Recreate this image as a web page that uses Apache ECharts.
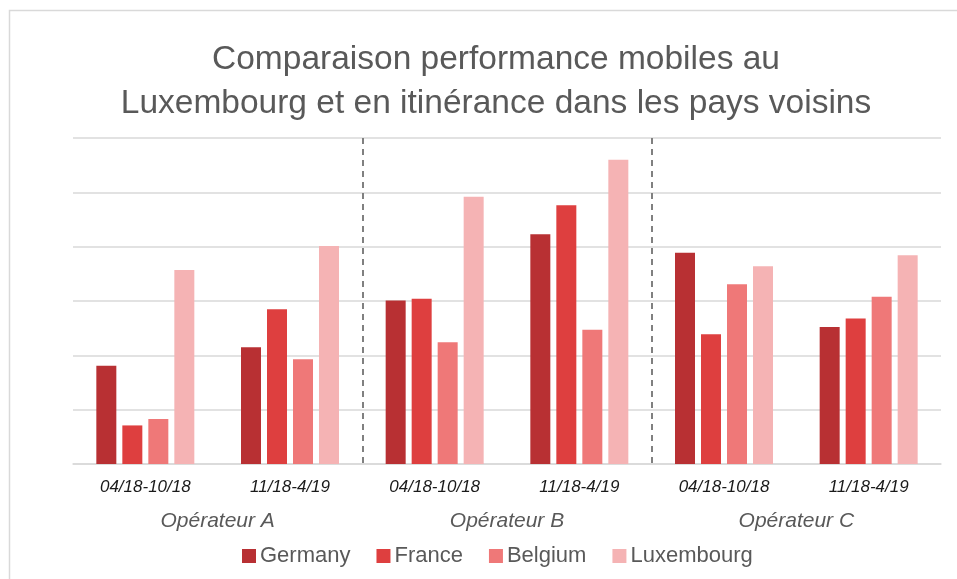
<!DOCTYPE html>
<html>
<head>
<meta charset="utf-8">
<script src="https://cdn.jsdelivr.net/npm/echarts@6/dist/echarts.min.js"></script>
<style>
html,body{margin:0;padding:0;background:#fff;}
#chart{width:957px;height:579px;}
</style>
</head>
<body>
<div id="chart"></div>
<script>
var periods = ['04/18-10/18', '11/18-4/19', '04/18-10/18', '11/18-4/19', '04/18-10/18', '11/18-4/19'];
var operators = ['Opérateur A', 'Opérateur B', 'Opérateur C'];
var seriesNames = ['Germany', 'France', 'Belgium', 'Luxembourg'];
var germany = [1.81, 2.15, 3.01, 4.23, 3.89, 2.52];
var france = [0.71, 2.85, 3.04, 4.76, 2.39, 2.68];
var belgium = [0.83, 1.93, 2.24, 2.47, 3.31, 3.08];
var luxembourg = [3.57, 4.01, 4.92, 5.60, 3.64, 3.84];
var colors = ['#b83033', '#de3f3f', '#ef7878', '#f5b3b4'];

var FONT = '"Liberation Sans", sans-serif';
var chart = echarts.init(document.getElementById('chart'), null, {renderer: 'canvas'});
var values = [germany, france, belgium, luxembourg];
var series = seriesNames.map(function (n, i) {
  return {
    name: n,
    type: 'bar',
    xAxisIndex: 0,
    data: values[i],
    barWidth: 20,
    barGap: '30%',
    itemStyle: {color: colors[i]}
  };
});

chart.setOption({
  animation: false,
  textStyle: {fontFamily: FONT},
  title: {
    text: 'Comparaison performance mobiles au\nLuxembourg et en itinérance dans les pays voisins',
    left: 491,
    textAlign: 'center',
    top: 33,
    textStyle: {fontFamily: FONT, fontSize: 33.5, fontWeight: 'normal', color: '#595959', lineHeight: 44}
  },
  legend: {
    data: seriesNames,
    bottom: 7,
    left: 237,
    itemWidth: 14,
    itemHeight: 14,
    itemGap: 26,
    icon: 'rect',
    textStyle: {fontFamily: FONT, fontSize: 22, color: '#595959', padding: [0, 0, 0, -1]}
  },
  grid: {left: 73, right: 16, top: 138, bottom: 115},
  xAxis: [
    {
      type: 'category',
      data: periods,
      axisLine: {lineStyle: {color: '#d9d9d9', width: 1.5}},
      axisTick: {show: false},
      axisLabel: {fontStyle: 'italic', fontSize: 17, color: '#1a1a1a', margin: 15, fontFamily: FONT}
    },
    {
      type: 'category',
      position: 'bottom',
      data: operators,
      axisLine: {show: false},
      axisTick: {show: false},
      axisLabel: {fontStyle: 'italic', fontSize: 21, color: '#595959', margin: 47, fontFamily: FONT},
      splitLine: {show: true, showMinLine: false, showMaxLine: false,
        lineStyle: {color: '#808080', width: 2, type: [6, 5]}}
    }
  ],
  yAxis: {
    type: 'value',
    min: 0,
    max: 6,
    interval: 1,
    axisLabel: {show: false},
    axisLine: {show: false},
    axisTick: {show: false},
    splitLine: {lineStyle: {color: '#d9d9d9', width: 1.5}}
  },
  graphic: [{
    type: 'rect',
    shape: {x: 9.5, y: 10.5, width: 1000, height: 600},
    style: {fill: 'none', stroke: '#d9d9d9', lineWidth: 1.5},
    silent: true
  }],
  series: series
});
</script>
</body>
</html>
